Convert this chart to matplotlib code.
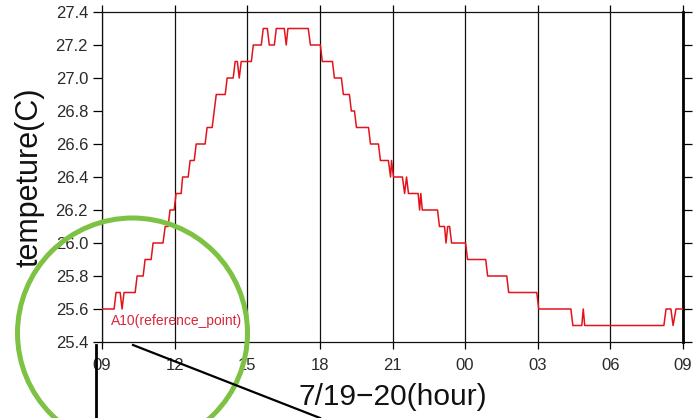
import matplotlib
matplotlib.use("Agg")
import matplotlib.pyplot as plt
import numpy as np
from matplotlib.patches import Circle
from matplotlib.lines import Line2D

plt.rcParams['font.family'] = ['Liberation Sans', 'DejaVu Sans']

# hours elapsed since 7/19 09:00
hours = [0.00, 0.50, 0.58, 0.75, 0.83, 0.91, 1.37, 1.45, 1.70, 1.78, 2.03, 2.11,
         2.52, 2.61, 2.73, 2.81, 2.98, 3.06, 3.27, 3.33, 3.56, 3.64, 3.81, 3.89,
         4.26, 4.34, 4.55, 4.72, 5.09, 5.17, 5.42, 5.50, 5.59, 5.67, 5.75, 6.17,
         6.25, 6.58, 6.66, 6.83, 6.91, 7.12, 7.20, 7.53, 7.61, 7.68, 8.52, 8.61,
         9.02, 9.10, 9.52, 9.60, 9.89, 9.97, 10.22, 10.30, 10.43, 10.51, 11.01, 11.09,
         11.42, 11.50, 11.83, 11.92, 11.96, 12.04, 12.41, 12.50, 12.58, 12.66, 13.06, 13.12,
         13.17, 13.23, 13.86, 13.94, 14.15, 14.21, 14.28, 14.36, 14.44, 15.02, 15.10, 15.85,
         15.93, 16.72, 16.80, 17.96, 18.04, 19.37, 19.45, 19.82, 19.88, 19.94, 23.21, 23.30,
         23.50, 23.59, 23.71, 24.00]
temps = [25.6, 25.6, 25.7, 25.7, 25.6, 25.7, 25.7, 25.8, 25.8, 25.9, 25.9, 26.0,
         26.0, 26.1, 26.1, 26.2, 26.2, 26.3, 26.3, 26.4, 26.4, 26.5, 26.5, 26.6,
         26.6, 26.7, 26.7, 26.9, 26.9, 27.0, 27.0, 27.1, 27.1, 27.0, 27.1, 27.1,
         27.2, 27.2, 27.3, 27.3, 27.2, 27.2, 27.3, 27.3, 27.2, 27.3, 27.3, 27.2,
         27.2, 27.1, 27.1, 27.0, 27.0, 26.9, 26.9, 26.8, 26.8, 26.7, 26.7, 26.6,
         26.6, 26.5, 26.5, 26.4, 26.5, 26.4, 26.4, 26.3, 26.4, 26.3, 26.3, 26.2,
         26.3, 26.2, 26.2, 26.1, 26.1, 26.0, 26.1, 26.1, 26.0, 26.0, 25.9, 25.9,
         25.8, 25.8, 25.7, 25.7, 25.6, 25.6, 25.5, 25.5, 25.6, 25.5, 25.5, 25.6,
         25.6, 25.5, 25.6, 25.6]

xtick_pos = [0, 3, 6, 9, 12, 15, 18, 21, 24]
xtick_labels = ["09", "12", "15", "18", "21", "00", "03", "06", "09"]
ytick_vals = [25.4, 25.6, 25.8, 26.0, 26.2, 26.4, 26.6, 26.8, 27.0, 27.2, 27.4]

W, H = 696, 418
fig = plt.figure(figsize=(W / 100, H / 100), dpi=100)
ax = fig.add_axes([102 / W, (H - 342) / H, (683 - 102) / W, (342 - 12) / H])

ax.plot(hours, temps, color='#e3131b', lw=1.1, zorder=3)

ax.set_xlim(0, 24)
ax.set_ylim(25.4, 27.4)
ax.set_xticks(xtick_pos)
ax.set_xticklabels(xtick_labels)
ax.set_yticks(ytick_vals)
ax.set_yticklabels([f"{v:.1f}" for v in ytick_vals])

ax.grid(axis='x', color='#111111', lw=0.9)
ax.tick_params(axis='x', top=True, bottom=True, direction='out', length=5, width=0.9,
               pad=6.5, labelsize=12, labelcolor='#2a2a2a')
ax.tick_params(axis='y', left=True, right=True, direction='out', length=6.5, width=0.9,
               pad=3.5, labelsize=12, labelcolor='#2a2a2a')
for s in ['left', 'top', 'bottom']:
    ax.spines[s].set_linewidth(0.9)
    ax.spines[s].set_color('#111111')
ax.spines['right'].set_linewidth(2.0)
ax.spines['right'].set_color('black')

ax.set_ylabel("tempeture(C)", fontsize=22, labelpad=8, color='#111111')
ax.set_xlabel("7/19\u221220(hour)", fontsize=21.5, labelpad=7, color='#111111')

ax.text(0.37, 25.53, "A10(reference_point)", color='#d8283a', fontsize=10,
        ha='left', va='center', zorder=4)

# overlay annotations (green circle and black pointer lines)
circ = Circle((132.5 / 100, (H - 333) / 100), 1.15, transform=fig.dpi_scale_trans,
              fill=False, ec='#7dc243', lw=3.6, clip_on=False, zorder=10)
fig.add_artist(circ)
fig.add_artist(Line2D([96 / W, 96 / W], [(H - 345) / H, 0], color='black', lw=2.0, zorder=11))
fig.add_artist(Line2D([133 / W, 320 / W], [(H - 345) / H, 0], color='black', lw=1.6, zorder=11))

fig.savefig("out.png", dpi=100)
